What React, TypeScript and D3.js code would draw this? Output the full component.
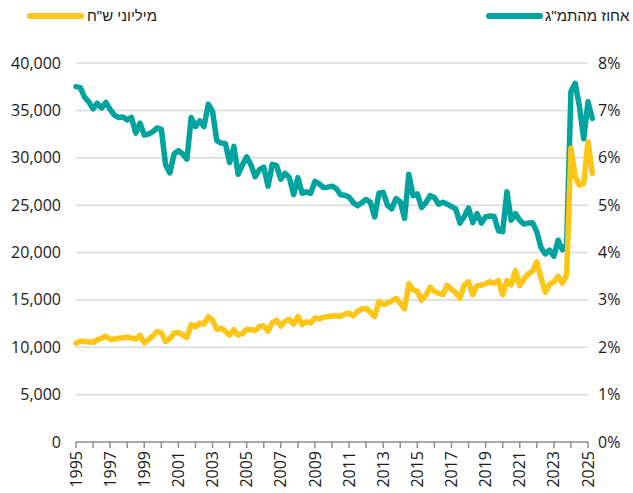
import React, { useEffect, useRef } from 'react'
import * as d3 from 'd3'

// quarterly, 1995Q1 .. 2025Q2
const startYear = 1995

const pctOfGdp = [
  7.50, 7.48, 7.28, 7.18, 7.03, 7.15, 7.05, 7.17, 7.02, 6.90,
  6.85, 6.86, 6.80, 6.85, 6.52, 6.73, 6.48, 6.50, 6.55, 6.63,
  6.60, 5.85, 5.68, 6.08, 6.15, 6.08, 5.97, 6.85, 6.66, 6.78,
  6.66, 7.13, 6.98, 6.36, 6.31, 6.30, 5.90, 6.24, 5.65, 5.85,
  6.02, 5.85, 5.60, 5.75, 5.80, 5.40, 5.86, 5.84, 5.55, 5.67,
  5.58, 5.22, 5.58, 5.25, 5.28, 5.25, 5.50, 5.45, 5.37, 5.38,
  5.40, 5.35, 5.22, 5.21, 5.17, 5.05, 4.99, 5.05, 5.12, 5.06,
  4.75, 5.25, 5.27, 5.00, 4.92, 5.14, 5.07, 4.72, 5.65, 5.20,
  5.24, 4.95, 5.05, 5.20, 5.16, 5.02, 5.06, 5.02, 4.97, 4.92,
  4.62, 4.76, 4.94, 4.63, 4.82, 4.62, 4.75, 4.77, 4.76, 4.46,
  4.44, 5.28, 4.68, 4.82, 4.68, 4.60, 4.62, 4.63, 4.44, 4.10,
  3.97, 4.05, 3.92, 4.26, 4.06, 4.16, 7.40, 7.57, 7.08, 6.40,
  7.18, 6.83,
]

const millionsNis = [
  10400, 10650, 10600, 10550, 10520, 10800, 10950, 11150, 10850, 10880,
  10950, 11000, 11050, 10980, 10850, 11250, 10450, 10800, 11200, 11650,
  11550, 10600, 10900, 11500, 11550, 11300, 11050, 12400, 12150, 12550,
  12450, 13200, 12850, 11900, 12000, 11700, 11300, 11850, 11300, 11450,
  11900, 11850, 11750, 12200, 12250, 11700, 12600, 12850, 12250, 12750,
  12950, 12450, 13250, 12400, 12700, 12550, 13100, 13000, 13150, 13250,
  13300, 13300, 13280, 13500, 13600, 13300, 13800, 14050, 14100, 13700,
  13250, 14850, 14500, 14650, 14900, 15150, 14650, 14050, 16700, 16050,
  15900, 14950, 15500, 16350, 15900, 15700, 15550, 16550, 16100, 15750,
  15200, 16600, 16900, 15550, 16500, 16550, 16700, 16900, 16750, 17050,
  15550, 17050, 16600, 18100, 16500, 17200, 17750, 18000, 19000, 17300,
  15800, 16650, 16900, 17500, 16750, 17600, 31000, 28000, 27100, 27300,
  31700, 28350,
]

const leftTicks = [0, 5000, 10000, 15000, 20000, 25000, 30000, 35000, 40000]
const rightTicks = [0, 1, 2, 3, 4, 5, 6, 7, 8]
const yearTicks = d3.range(1995, 2026)
const yearLabels = d3.range(1995, 2026, 2)

const seriesNames = ['אחוז מהתמ"ג', 'מיליוני ש"ח']

const TEAL = '#00A39E'
const GOLD = '#FDC515'

export default function App() {
  const svgRef = useRef<SVGSVGElement>(null)

  useEffect(() => {
    const width = 633
    const height = 493
    const margin = { top: 63, right: 45, bottom: 51, left: 76 }

    const svg = d3.select(svgRef.current)
    svg.selectAll('*').remove()
    svg.attr('width', width).attr('height', height)

    const x = d3.scaleLinear().domain([1995, 2025]).range([margin.left, width - margin.right])
    const yL = d3.scaleLinear().domain([0, 40000]).range([height - margin.bottom, margin.top])
    const yR = d3.scaleLinear().domain([0, 8]).range([height - margin.bottom, margin.top])

    const font = '"Open Sans", "Noto Sans", sans-serif'
    const fs = 16

    // gridlines
    svg.append('g')
      .selectAll('line')
      .data(leftTicks.slice(1))
      .join('line')
      .attr('x1', x(1995))
      .attr('x2', x(2025))
      .attr('y1', d => yL(d))
      .attr('y2', d => yL(d))
      .attr('stroke', '#d9d9d9')
      .attr('stroke-width', 1.5)

    // left axis labels
    svg.append('g')
      .selectAll('text')
      .data(leftTicks)
      .join('text')
      .attr('x', margin.left - 15)
      .attr('y', d => yL(d))
      .attr('dy', '0.35em')
      .attr('text-anchor', 'end')
      .attr('font-family', font)
      .attr('font-size', fs)
      .attr('fill', '#1a1a1a')
      .text(d => d3.format(',')(d))

    // right axis labels
    svg.append('g')
      .selectAll('text')
      .data(rightTicks)
      .join('text')
      .attr('x', x(2025) + 10)
      .attr('y', d => yR(d))
      .attr('dy', '0.35em')
      .attr('text-anchor', 'start')
      .attr('font-family', font)
      .attr('font-size', fs)
      .attr('fill', '#1a1a1a')
      .text(d => d + '%')

    // x axis
    const base = yL(0)
    svg.append('line')
      .attr('x1', x(1995)).attr('x2', x(2025))
      .attr('y1', base).attr('y2', base)
      .attr('stroke', '#8c8c8c').attr('stroke-width', 1.5)

    svg.append('g')
      .selectAll('line')
      .data(yearTicks)
      .join('line')
      .attr('x1', d => x(d)).attr('x2', d => x(d))
      .attr('y1', base).attr('y2', base + 6)
      .attr('stroke', '#8c8c8c').attr('stroke-width', 1.5)

    svg.append('g')
      .selectAll('text')
      .data(yearLabels)
      .join('text')
      .attr('transform', d => `translate(${x(d)},${base + 9}) rotate(-90)`)
      .attr('dy', '0.35em')
      .attr('text-anchor', 'end')
      .attr('font-family', font)
      .attr('font-size', fs)
      .attr('fill', '#1a1a1a')
      .text(d => d)

    // lines
    const t = (i: number) => startYear + i / 4
    const pctLine = d3.line<number>().x((d, i) => x(t(i))).y(d => yR(d))
    const nisLine = d3.line<number>().x((d, i) => x(t(i))).y(d => yL(d))

    svg.append('path')
      .attr('d', pctLine(pctOfGdp))
      .attr('fill', 'none')
      .attr('stroke', TEAL)
      .attr('stroke-width', 5.5)
      .attr('stroke-linejoin', 'round')
      .attr('stroke-linecap', 'round')

    svg.append('path')
      .attr('d', nisLine(millionsNis))
      .attr('fill', 'none')
      .attr('stroke', GOLD)
      .attr('stroke-width', 5.5)
      .attr('stroke-linejoin', 'round')
      .attr('stroke-linecap', 'round')

    // legend
    const legend = [
      { name: seriesNames[0], color: TEAL, x0: 489, x1: 540, tx: 545 },
      { name: seriesNames[1], color: GOLD, x0: 30, x1: 81, tx: 87 },
    ]
    legend.forEach(item => {
      svg.append('line')
        .attr('x1', item.x0).attr('x2', item.x1)
        .attr('y1', 16).attr('y2', 16)
        .attr('stroke', item.color)
        .attr('stroke-width', 6)
        .attr('stroke-linecap', 'round')
      svg.append('text')
        .attr('x', item.tx)
        .attr('y', 16)
        .attr('dy', '0.35em')
        .attr('font-family', '"Liberation Sans", Arial, sans-serif')
        .attr('font-size', 15)
        .attr('fill', '#1a1a1a')
        .text(item.name)
    })
  }, [])

  return (
    <svg
      ref={svgRef}
      style={{ position: 'absolute', left: 0, top: 0, display: 'block' }}
    />
  )
}
